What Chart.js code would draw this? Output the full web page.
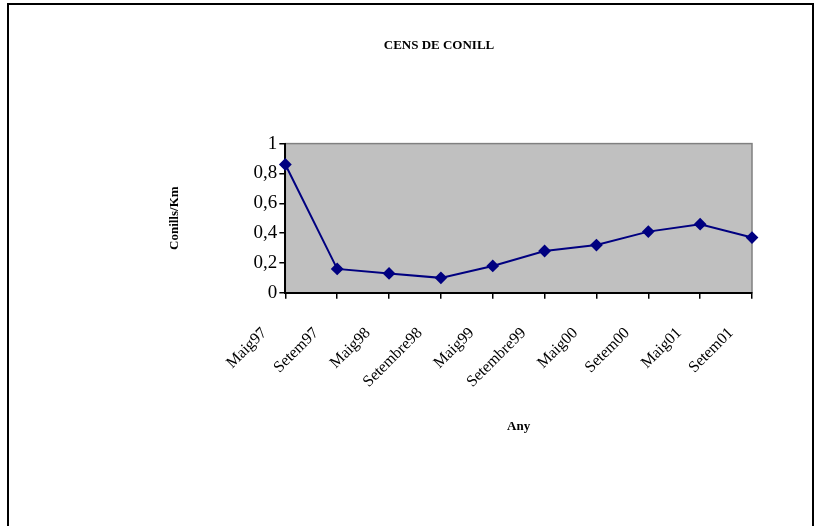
<!DOCTYPE html>
<html>
<head>
<meta charset="utf-8">
<script src="https://cdn.jsdelivr.net/npm/chart.js@4"></script>
<style>
  html, body { margin: 0; padding: 0; background: #fff; overflow: hidden; }
  #frame { position: absolute; left: 7px; top: 3px; width: 803px; height: 540px; border: 2px solid #000; }
  #wrap { position: absolute; left: 0; top: 0; width: 821px; height: 526px; }
</style>
</head>
<body>
<div id="frame"></div>
<div id="wrap"><canvas id="chart" width="821" height="526"></canvas></div>
<script>
// census data
const periods = ["Maig97", "Setem97", "Maig98", "Setembre98", "Maig99", "Setembre99", "Maig00", "Setem00", "Maig01", "Setem01"];
const rabbitsPerKm = [0.86, 0.16, 0.13, 0.10, 0.18, 0.28, 0.32, 0.41, 0.46, 0.37];
const yTicks = [0, 0.2, 0.4, 0.6, 0.8, 1];

const serif = "'Liberation Serif', 'Times New Roman', serif";

// grey plot background with a darker border, like the old spreadsheet chart
const plotBackground = {
  id: "plotBackground",
  beforeDraw(chart) {
    const { ctx, chartArea: a } = chart;
    ctx.save();
    ctx.fillStyle = "#c0c0c0";
    ctx.fillRect(a.left, a.top, a.right - a.left, a.bottom - a.top);
    ctx.strokeStyle = "#808080";
    ctx.lineWidth = 1.5;
    ctx.strokeRect(a.left, a.top, a.right - a.left, a.bottom - a.top);
    ctx.restore();
  }
};

new Chart(document.getElementById("chart"), {
  type: "line",
  data: {
    labels: periods,
    datasets: [{
      data: rabbitsPerKm,
      borderColor: "#000080",
      backgroundColor: "#000080",
      borderWidth: 2,
      pointStyle: "rectRot",
      pointRadius: 5,
      tension: 0,
      clip: false
    }]
  },
  options: {
    responsive: false,
    animation: false,
    layout: { padding: { left: 126, right: 69, top: 38, bottom: 88 } },
    plugins: {
      legend: { display: false },
      tooltip: { enabled: false },
      title: {
        display: true,
        text: "CENS DE CONILL",
        color: "#000",
        font: { family: serif, size: 13, weight: "bold" },
        padding: { top: 0, bottom: 90 }
      }
    },
    scales: {
      x: {
        offset: false,
        grid: { drawOnChartArea: false, drawTicks: true, tickLength: 6, color: "#000", lineWidth: 1.5 },
        border: { color: "#000", width: 2 },
        ticks: {
          color: "#000",
          minRotation: 45,
          maxRotation: 45,
          autoSkip: false,
          padding: 25,
          labelOffset: -21,
          font: { family: serif, size: 16 }
        },
        title: {
          display: true,
          text: "Any",
          color: "#000",
          font: { family: serif, size: 13, weight: "bold" },
          padding: { top: 2 }
        }
      },
      y: {
        min: 0,
        max: 1,
        afterBuildTicks(axis) { axis.ticks = yTicks.map(v => ({ value: v })); },
        grid: { drawOnChartArea: false, drawTicks: true, tickLength: 6, color: "#000", lineWidth: 1.5 },
        border: { color: "#000", width: 2 },
        ticks: {
          color: "#000",
          padding: 2,
          autoSkip: false,
          font: { family: serif, size: 19 },
          callback: v => String(v).replace(".", ",")
        },
        title: {
          display: true,
          text: "Conills/Km",
          color: "#000",
          font: { family: serif, size: 13, weight: "bold" },
          padding: { top: 41, bottom: 69 }
        }
      }
    }
  },
  plugins: [plotBackground]
});
</script>
</body>
</html>
